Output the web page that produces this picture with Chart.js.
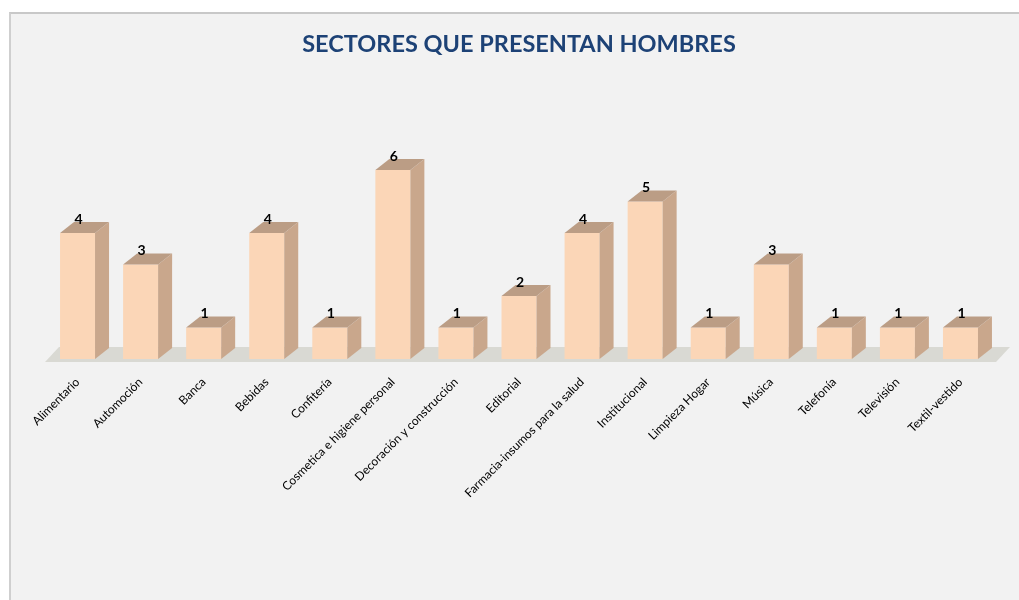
<!DOCTYPE html>
<html>
<head>
<meta charset="utf-8">
<script src="https://cdn.jsdelivr.net/npm/chart.js@4.4.1/dist/chart.umd.min.js"></script>
<style>
  body { margin: 0; background: #ffffff; }
  #frame { position: absolute; left: 9px; top: 12px; width: 1020px; height: 600px;
           background: #f2f2f2; border-left: 2px solid #cfcfcf; border-top: 2px solid #c8c8c8; }
  #wrap { position: absolute; left: 0; top: 0; width: 1019px; height: 600px; }
</style>
</head>
<body>
<div id="frame"></div>
<div id="wrap"><canvas id="chart"></canvas></div>
<script>
// categories and counts
var sectores = ["Alimentario", "Automoción", "Banca", "Bebidas", "Confitería",
  "Cosmetica e higiene personal", "Decoración y construcción", "Editorial",
  "Farmacia-insumos para la salud", "Institucional", "Limpieza Hogar", "Música",
  "Telefonía", "Televisión", "Textil-vestido"];
var hombres = [4, 3, 1, 4, 1, 6, 1, 2, 4, 5, 1, 3, 1, 1, 1];
var titulo = "SECTORES QUE PRESENTAN HOMBRES";

// depth of the fake 3d boxes
var DX = 14, DY = 11;

var cajas3d = {
  id: 'cajas3d',
  beforeDatasetsDraw: function(chart) {
    var ctx = chart.ctx, a = chart.chartArea;
    // floor
    ctx.save();
    ctx.fillStyle = '#d9d9d3';
    ctx.beginPath();
    ctx.moveTo(a.left - 1, a.bottom + 3);
    ctx.lineTo(a.right + 4, a.bottom + 3);
    ctx.lineTo(a.right + 4 + DX, a.bottom + 3 - 15);
    ctx.lineTo(a.left - 1 + DX, a.bottom + 3 - 15);
    ctx.closePath();
    ctx.fill();
    ctx.restore();
  },
  afterDatasetsDraw: function(chart) {
    var ctx = chart.ctx;
    var meta = chart.getDatasetMeta(0);
    ctx.save();
    meta.data.forEach(function(bar, i) {
      var p = bar.getProps(['x', 'y', 'base', 'width'], true);
      var l = p.x - p.width / 2, r = p.x + p.width / 2;
      // side
      ctx.fillStyle = '#c9a78c';
      ctx.beginPath();
      ctx.moveTo(r, p.y);
      ctx.lineTo(r + DX, p.y - DY);
      ctx.lineTo(r + DX, p.base - DY);
      ctx.lineTo(r, p.base);
      ctx.closePath();
      ctx.fill();
      // top
      ctx.fillStyle = '#bb9d85';
      ctx.beginPath();
      ctx.moveTo(l, p.y);
      ctx.lineTo(l + DX, p.y - DY);
      ctx.lineTo(r + DX, p.y - DY);
      ctx.lineTo(r, p.y);
      ctx.closePath();
      ctx.fill();
      // value label
      ctx.fillStyle = '#000000';
      ctx.font = 'bold 14px Lato';
      ctx.textAlign = 'center';
      ctx.textBaseline = 'bottom';
      ctx.fillText(hombres[i], p.x + 1, p.y - DY + 4);
    });
    ctx.restore();
  }
};

new Chart(document.getElementById('chart'), {
  type: 'bar',
  data: {
    labels: sectores,
    datasets: [{
      data: hombres,
      backgroundColor: '#fbd6b7',
      borderWidth: 0,
      categoryPercentage: 1,
      barPercentage: 0.555
    }]
  },
  plugins: [cajas3d],
  options: {
    responsive: true,
    maintainAspectRatio: false,
    animation: false,
    layout: { padding: { left: 46, right: 27, top: 0, bottom: 0 } },
    plugins: {
      legend: { display: false },
      tooltip: { enabled: false },
      title: {
        display: true,
        text: titulo,
        color: '#1d4276',
        font: { family: 'Lato', size: 23.5, weight: 'bold', lineHeight: 1.2 },
        padding: { top: 30, bottom: 111.8 }
      }
    },
    scales: {
      y: { display: false, min: 0, max: 6 },
      x: {
        grid: { display: false },
        border: { display: false },
        ticks: {
          autoSkip: false,
          maxRotation: 45,
          minRotation: 45,
          padding: 8,
          color: '#000000',
          font: { family: 'Lato', size: 12 }
        },
        afterFit: function(scale) { scale.height = 241; }
      }
    }
  }
});
</script>
</body>
</html>
